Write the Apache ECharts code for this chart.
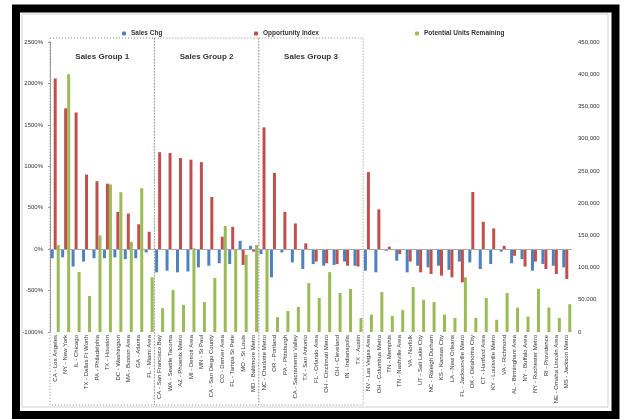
<!DOCTYPE html>
<html lang="en">
<head>
    <meta charset="UTF-8">
    <title>Sales groups - opportunity</title>
    <script type="text/javascript" src="https://cdn.jsdelivr.net/npm/echarts@6/dist/echarts.min.js"></script>
    <style>body { margin: 0; background: #fff; }</style>
</head>
<body>
    <div id="main" style="width: 624px; height: 419px"></div>
    <script>
        // markets on the x axis
        var markets = [
            'CA - Los Angeles', 'NY - New York', 'IL - Chicago', 'TX - Dallas Ft Worth', 'PA - Philadelphia',
            'TX - Houston', 'DC - Washington', 'MA - Boston Area', 'GA - Atlanta', 'FL - Miami Area',
            'CA - San Francisco Bay', 'WA - Seattle Tacoma', 'AZ - Phoenix Metro', 'MI - Detroit Area', 'MN - St Paul',
            'CA - San Diego County', 'CO - Denver Area', 'FL - Tampa St Pete', 'MO - St Louis', 'MD - Baltimore Metro',
            'NC - Charlotte Metro', 'OR - Portland', 'PA - Pittsburgh', 'CA - Sacramento Valley', 'TX - San Antonio',
            'FL - Orlando Area', 'OH - Cincinnati Metro', 'OH - Cleveland', 'IN - Indianapolis', 'TX - Austin',
            'NV - Las Vegas Area', 'OH - Columbus Metro', 'TN - Memphis', 'TN - Nashville Area', 'VA - Norfolk',
            'UT - Salt Lake City', 'NC - Raleigh Durham', 'KS - Kansas City', 'LA - New Orleans', 'FL - Jacksonville Metro',
            'OK - Oklahoma City', 'CT - Hartford Area', 'KY - Louisville Metro', 'VA - Richmond', 'AL - Birmingham Area',
            'NY - Buffalo Area', 'NY - Rochester Metro', 'RI - Providence', 'NE - Omaha Lincoln Area', 'MS - Jackson Metro'
        ];

        // Sales Chg (%)
        var salesChg = [
            -110, -100, -210, -150, -110, -110, -100, -120, -110, -40,
            -280, -260, -280, -270, -220, -200, -170, -180, 100, 40,
            -60, -340, -40, -160, -240, -180, -200, -190, -150, -200,
            -260, -280, -20, -140, -280, -200, -220, -200, -250, -150,
            -160, -240, -180, -30, -170, -120, -260, -180, -200, -220
        ];

        // Opportunity Index (%)
        var oppIndex = [
            2060, 1700, 1650, 900, 820, 790, 450, 430, 300, 210,
            1170, 1160, 1100, 1080, 1050, 630, 150, 270, -190, -30,
            1470, 920, 450, 310, 70, -150, -170, -180, -200, -210,
            930, 480, 30, -60, -150, -280, -300, -320, -340, -400,
            690, 330, 250, 40, -80, -210, -150, -240, -300, -360
        ];

        // Potential Units Remaining (right axis)
        var unitsLeft = [
            135000, 400000, 93000, 56000, 150000, 229000, 217000, 140000, 223000, 85000,
            37000, 65000, 42000, 130000, 46500, 84000, 164500, 128000, 120000, 135000,
            128000, 23000, 32600, 39000, 76000, 53000, 93000, 60500, 66700, 21700,
            27000, 62000, 25000, 34000, 70000, 50000, 46500, 27000, 21700, 85000,
            22000, 53000, 19000, 60500, 38000, 24000, 67000, 38000, 21700, 43000
        ];

        var groupNames = ['Sales Group 1', 'Sales Group 2', 'Sales Group 3'];
        var groupFirst = [0, 10, 20];
        var groupLast = [9, 19, 29];

        var pctMin = -1000, pctMax = 2500, pctStep = 500;
        var unitMin = 0, unitMax = 450000, unitStep = 50000;

        var font = 'Liberation Sans';
        var myChart = echarts.init(document.getElementById('main'));

        function commas(v) {
            return String(v).replace(/\B(?=(\d{3})+(?!\d))/g, ',');
        }

        var legendText = {fontSize: 6.5, fontWeight: 'bold', color: '#333', fontFamily: font};

        myChart.setOption({
            animation: false,
            textStyle: {fontFamily: font},
            legend: [
                {data: ['Sales Chg'], left: 117, top: 25, itemWidth: 4, itemHeight: 4, textStyle: legendText},
                {data: ['Opportunity Index'], left: 249, top: 25, itemWidth: 4, itemHeight: 4, textStyle: legendText},
                {data: ['Potential Units Remaining'], left: 410, top: 25, itemWidth: 4, itemHeight: 4, textStyle: legendText}
            ],
            grid: {left: 50, right: 52, top: 42, bottom: 87, outerBoundsMode: 'none'},
            xAxis: {
                type: 'category',
                data: markets,
                axisLine: {show: false},
                axisTick: {show: false},
                axisLabel: {interval: 0, rotate: 90, fontSize: 6, color: '#333', margin: 3}
            },
            yAxis: [
                {
                    type: 'value',
                    min: pctMin,
                    max: pctMax,
                    interval: pctStep,
                    axisLine: {show: true, lineStyle: {color: '#999'}},
                    axisTick: {show: true, length: 2, lineStyle: {color: '#999'}},
                    splitLine: {show: false},
                    axisLabel: {fontSize: 6, color: '#333', margin: 7, formatter: function (v) { return v + '%'; }}
                },
                {
                    type: 'value',
                    position: 'right',
                    min: unitMin,
                    max: unitMax,
                    interval: unitStep,
                    axisLine: {show: false},
                    axisTick: {show: false},
                    splitLine: {show: false},
                    axisLabel: {fontSize: 6, color: '#333', margin: 6, formatter: commas}
                }
            ],
            series: [
                {
                    name: 'Sales Chg',
                    type: 'bar',
                    yAxisIndex: 0,
                    data: salesChg,
                    barWidth: 3,
                    barGap: '0%',
                    itemStyle: {color: '#4f81bd'},
                    markLine: {
                        silent: true,
                        symbol: 'none',
                        label: {show: false},
                        lineStyle: {color: '#aaa', width: 1, type: 'solid'},
                        data: [{yAxis: 0}]
                    }
                },
                {
                    name: 'Opportunity Index',
                    type: 'bar',
                    yAxisIndex: 0,
                    data: oppIndex,
                    barWidth: 3,
                    itemStyle: {color: '#c0504d'}
                },
                {
                    name: 'Potential Units Remaining',
                    type: 'bar',
                    yAxisIndex: 1,
                    data: unitsLeft,
                    barWidth: 3,
                    itemStyle: {color: '#9bbb59'}
                }
            ]
        });

        // frame + dotted group boxes, placed from the axis scales
        function catX(i) {
            return myChart.convertToPixel({xAxisIndex: 0}, markets[i]);
        }
        var half = (catX(1) - catX(0)) / 2;
        var boxTop = myChart.convertToPixel({yAxisIndex: 0}, pctMax) - 4;
        var boxBottom = 405;

        var shapes = [
            {type: 'rect', silent: true, shape: {x: 16, y: 8.5, width: 599.5, height: 406.5},
                style: {fill: 'none', stroke: '#000', lineWidth: 8}},
            {type: 'rect', silent: true, shape: {x: 22, y: 14, width: 586, height: 393},
                style: {fill: 'none', stroke: '#d0d0d0', lineWidth: 1}}
        ];
        groupNames.forEach(function (name, i) {
            var x0 = catX(groupFirst[i]) - half;
            var x1 = catX(groupLast[i]) + half;
            shapes.push({
                type: 'rect', silent: true,
                shape: {x: x0, y: boxTop, width: x1 - x0, height: boxBottom - boxTop},
                style: {fill: 'none', stroke: '#8c8c8c', lineWidth: 1, lineDash: [1, 2]}
            });
            shapes.push({
                type: 'text', silent: true, x: (x0 + x1) / 2, y: 57,
                style: {text: name, fontSize: 8, fontWeight: 'bold', fill: '#333', fontFamily: font,
                    align: 'center', verticalAlign: 'middle'}
            });
        });
        myChart.setOption({graphic: shapes});
    </script>
</body>
</html>
